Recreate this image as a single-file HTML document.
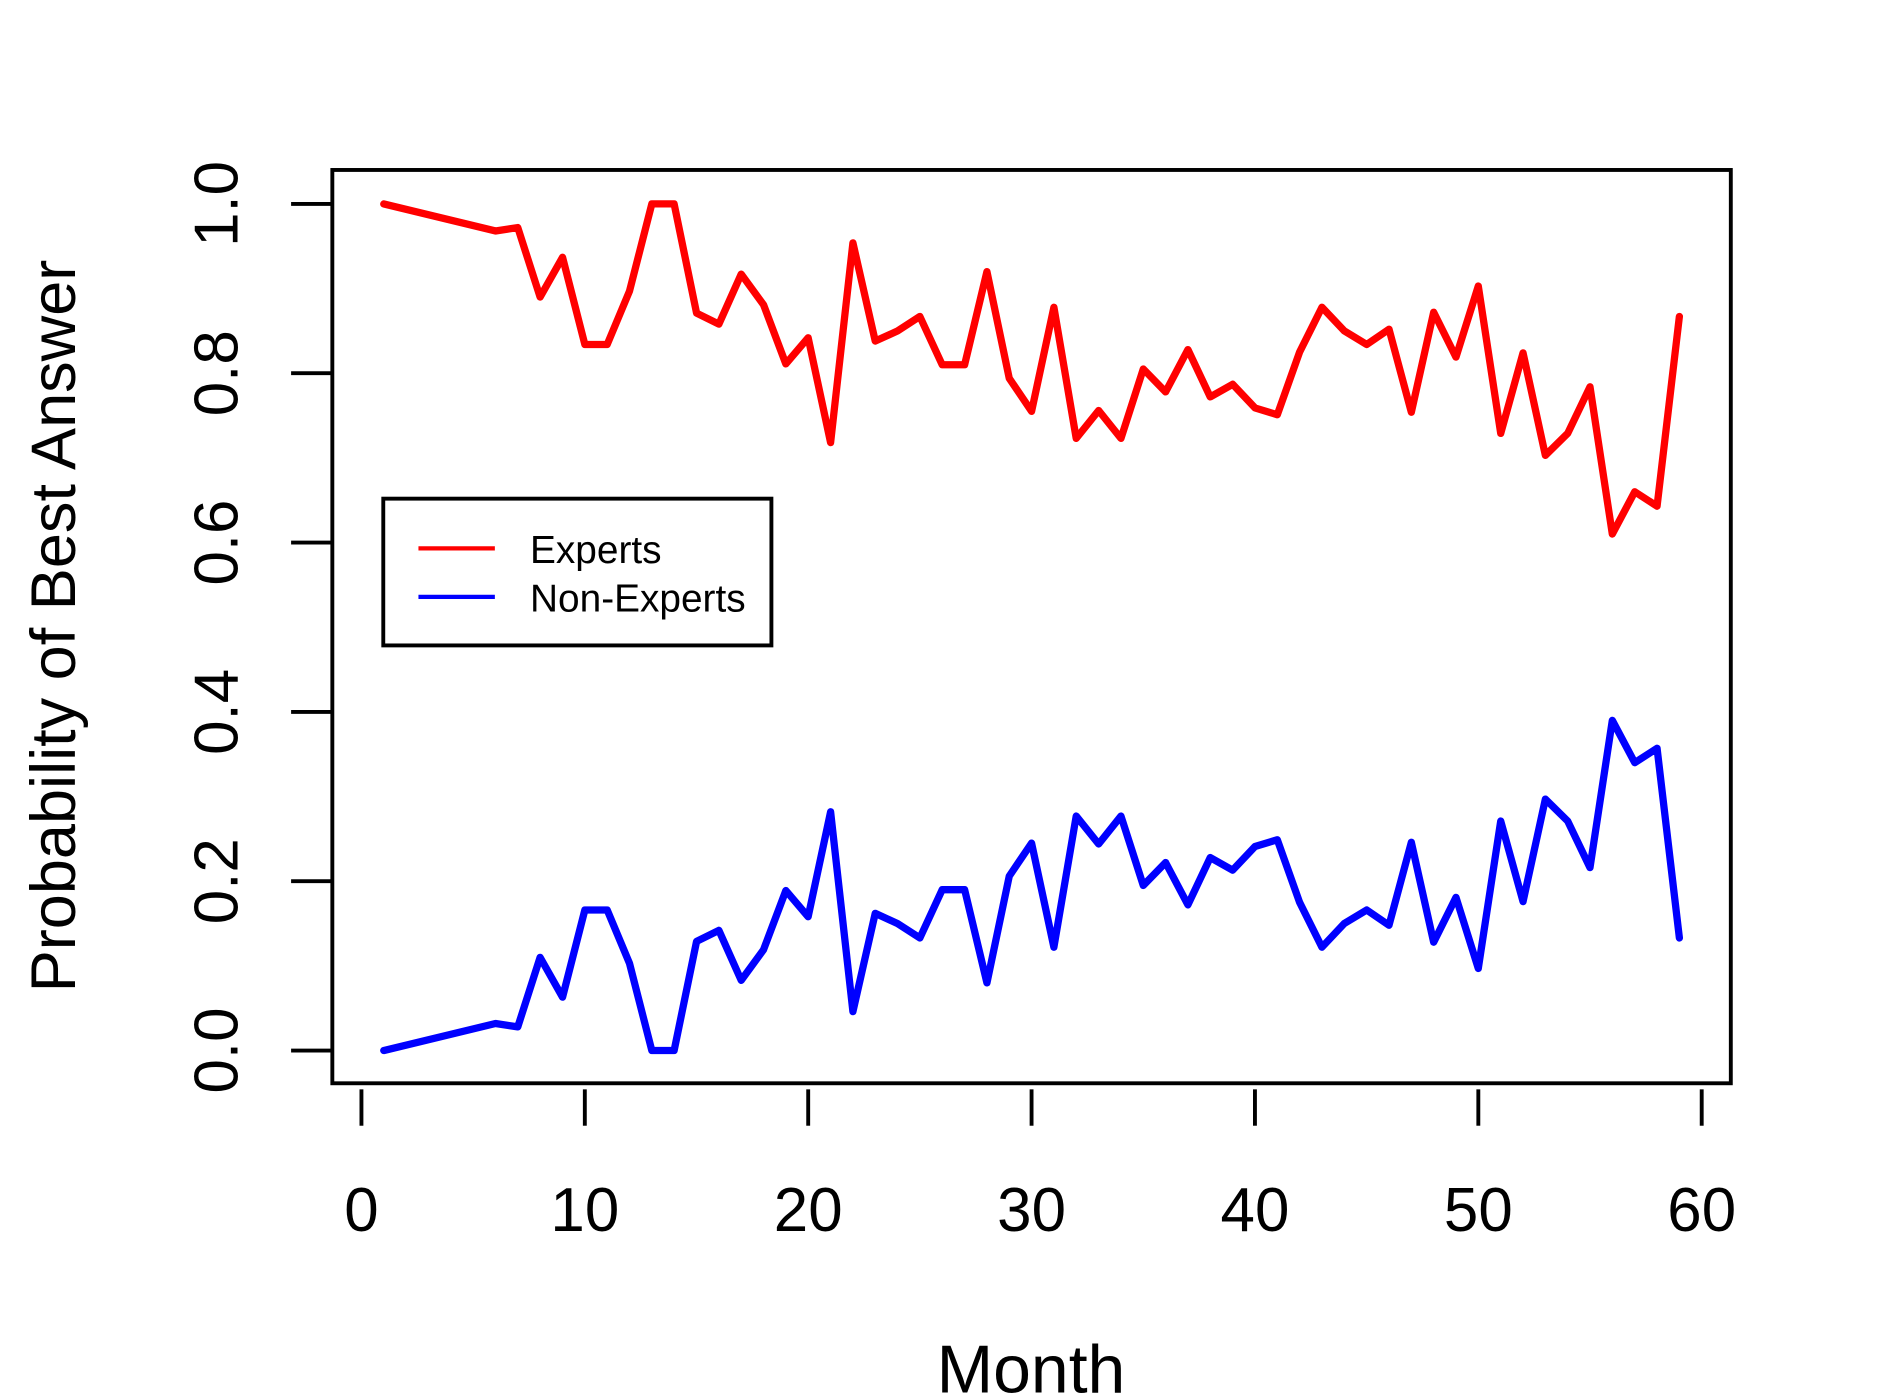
<!DOCTYPE html>
<html><head><meta charset="utf-8"><style>
html,body{margin:0;padding:0;background:#fff;}
svg{display:block;font-family:"Liberation Sans",sans-serif;}
</style></head><body>
<svg id="chart" width="1880" height="1400" viewBox="0 0 1550 1154" xmlns="http://www.w3.org/2000/svg">
<rect x="0" y="0" width="1550" height="1154" fill="#fff"/>
<g id="axes"></g>
<g id="series"></g>
<rect x="274" y="140" width="1153" height="753" fill="none" stroke="#000" stroke-width="3.2"/>
<text x="850" y="1148" font-size="56" text-anchor="middle">Month</text>
<text transform="translate(62,516) rotate(-90)" font-size="52" text-anchor="middle">Probability of Best Answer</text>
<g>
<rect x="316" y="411" width="320" height="121" fill="#fff" stroke="#000" stroke-width="3.2"/>
<line x1="345" y1="452" x2="408" y2="452" stroke="#ff0000" stroke-width="3.5"/>
<text x="437" y="464" font-size="32">Experts</text>
<line x1="345" y1="492" x2="408" y2="492" stroke="#0000ff" stroke-width="3.5"/>
<text x="437" y="504" font-size="32">Non-Experts</text>
</g>
</svg>
<script>
const months = [1,6,7,8,9,10,11,12,13,14,15,16,17,18,19,20,21,22,23,24,25,26,27,28,29,30,31,32,33,34,35,36,37,38,39,40,41,42,43,44,45,46,47,48,49,50,51,52,53,54,55,56,57,58,59];
const experts = [1.0,0.968,0.972,0.89,0.937,0.834,0.834,0.897,1.0,1.0,0.871,0.858,0.917,0.881,0.811,0.842,0.718,0.954,0.838,0.85,0.867,0.81,0.81,0.92,0.794,0.755,0.878,0.723,0.756,0.723,0.805,0.778,0.828,0.772,0.787,0.759,0.751,0.825,0.878,0.85,0.834,0.852,0.754,0.872,0.819,0.903,0.729,0.824,0.703,0.729,0.784,0.61,0.66,0.643,0.867];
const nonExperts = [0.0,0.032,0.028,0.11,0.063,0.166,0.166,0.103,0.0,0.0,0.129,0.142,0.083,0.119,0.189,0.158,0.282,0.046,0.162,0.15,0.133,0.19,0.19,0.08,0.206,0.245,0.122,0.277,0.244,0.277,0.195,0.222,0.172,0.228,0.213,0.241,0.249,0.175,0.122,0.15,0.166,0.148,0.246,0.128,0.181,0.097,0.271,0.176,0.297,0.271,0.216,0.39,0.34,0.357,0.133];
const xTicks = [0,10,20,30,40,50,60];
const yTicks = [0,0.2,0.4,0.6,0.8,1.0];
const yTickLabels = ["0.0","0.2","0.4","0.6","0.8","1.0"];

const NS = "http://www.w3.org/2000/svg";
function xs(v){ return 298 + v * (1403 - 298) / 60; }
function ys(v){ return 866 - v * (866 - 168); }
const axes = document.getElementById('axes');
const series = document.getElementById('series');
function mk(tag, attrs, parent){ const e = document.createElementNS(NS, tag); for (const k in attrs) e.setAttribute(k, attrs[k]); parent.appendChild(e); return e; }

xTicks.forEach(t => {
  const l = mk('line', {x1: xs(t), y1: 898, x2: xs(t), y2: 928, stroke: '#000', 'stroke-width': 3.2}, axes);
  
  
  const tx = mk('text', {x: xs(t), y: 1015, 'font-size': 51, 'text-anchor': 'middle'}, axes);
  tx.textContent = String(t);
  
  
});
yTicks.forEach((t, i) => {
  const l = mk('line', {x1: 240, y1: ys(t), x2: 274, y2: ys(t), stroke: '#000', 'stroke-width': 3.2}, axes);
  
  
  const tx = mk('text', {'font-size': 51, 'text-anchor': 'middle', transform: 'translate(196,' + ys(t) + ') rotate(-90)'}, axes);
  tx.textContent = yTickLabels[i];
  
  
});
function line(vals, color, name){
  const pts = months.map((m, i) => xs(m).toFixed(1) + ',' + ys(vals[i]).toFixed(1)).join(' ');
  const p = mk('polyline', {points: pts, fill: 'none', stroke: color, 'stroke-width': 6, 'stroke-linejoin': 'round', 'stroke-linecap': 'round'}, series);
  
  
}
line(experts, '#ff0000', 'experts-line');
line(nonExperts, '#0000ff', 'non-experts-line');
</script>
</body></html>
